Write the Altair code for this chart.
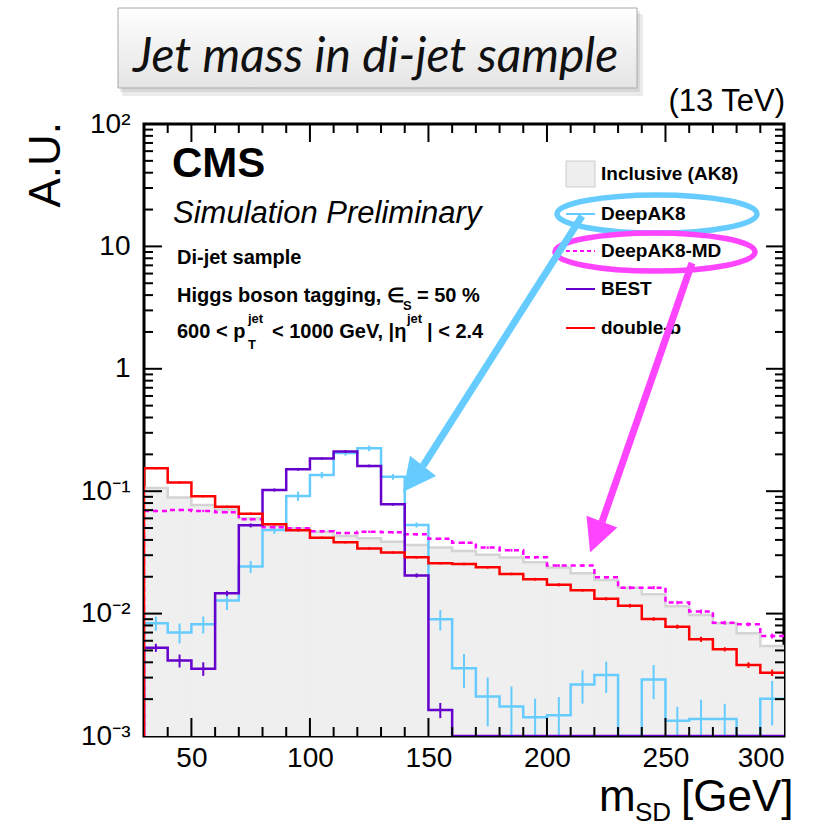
import altair as alt
import pandas as pd

# ---------------- data ----------------
edges = list(range(30, 310, 10))          # bin edges, 10 GeV bins, 30..300
inclusive = [0.106, 0.089, 0.077, 0.071, 0.060, 0.052, 0.0498, 0.0467, 0.0431, 0.0412,
             0.0387, 0.0364, 0.0346, 0.0325, 0.0303, 0.0287, 0.0263, 0.0238, 0.0214, 0.0188,
             0.0163, 0.0144, 0.0115, 0.00975, 0.00834, 0.00691, 0.00543]
deepak8 = [0.00834, 0.0070, 0.00817, 0.0128, 0.0242, 0.0482, 0.0914, 0.1355, 0.205, 0.224,
           0.131, 0.053, 0.00898, 0.00357, 0.0021, 0.00174, 0.00142, 0.00148, 0.00264, 0.00315,
           0.0, 0.0029, 0.00133, 0.00138, 0.00138, 0.0, 0.00202]
deepak8_err = [0.0011, 0.0013, 0.0013, 0.0021, 0.0027, 0.0034, 0.008, 0.008, 0.01, 0.012,
               0.007, 0.0025, 0.0017, 0.0011, 0.0009, 0.0008, 0.0006, 0.0006, 0.0008, 0.0009,
               0.0, 0.0009, 0.0004, 0.0006, 0.00045, 0.0, 0.0008]
deepak8_md = [0.0689, 0.0702, 0.069, 0.0673, 0.0589, 0.0507, 0.0498, 0.047, 0.0455, 0.0467,
              0.0461, 0.0444, 0.0409, 0.038, 0.0346, 0.0329, 0.0288, 0.0247, 0.0247, 0.0198,
              0.0163, 0.0163, 0.0123, 0.0104, 0.00843, 0.00817, 0.00656]
deepak8_md_err = [0.0015, 0.0015, 0.0015, 0.0014, 0.0013, 0.0011, 0.0011, 0.0011, 0.001, 0.001,
                  0.001, 0.001, 0.0009, 0.0009, 0.0008, 0.0008, 0.0007, 0.0006, 0.0006, 0.0005,
                  0.0005, 0.0005, 0.0004, 0.0004, 0.0003, 0.0003, 0.0003]
best = [0.00527, 0.00413, 0.00355, 0.01466, 0.0526, 0.1023, 0.151, 0.185, 0.211, 0.161,
        0.0782, 0.0205, 0.00163, 0.0, 0.0, 0.0, 0.0, 0.0, 0.0, 0.0,
        0.0, 0.0, 0.0, 0.0, 0.0, 0.0, 0.0]
best_err = [0.0004, 0.0005, 0.00045, 0.0007, 0.002, 0.003, 0.004, 0.004, 0.005, 0.004,
            0.002, 0.0008, 0.00023, 0.0, 0.0, 0.0, 0.0, 0.0, 0.0, 0.0,
            0.0, 0.0, 0.0, 0.0, 0.0, 0.0, 0.0]
doubleb = [0.154, 0.118, 0.091, 0.0747, 0.0655, 0.0536, 0.0479, 0.0417, 0.0382, 0.0341,
           0.0315, 0.0288, 0.0258, 0.0254, 0.0239, 0.0211, 0.0191, 0.0172, 0.0155, 0.0132,
           0.0116, 0.00903, 0.00782, 0.00617, 0.00511, 0.0038, 0.00329]
doubleb_err = [0.003, 0.0025, 0.002, 0.0016, 0.0014, 0.0012, 0.001, 0.0009, 0.0008, 0.0008,
               0.0007, 0.0007, 0.0006, 0.0006, 0.0006, 0.0005, 0.0005, 0.0005, 0.0004, 0.0004,
               0.0004, 0.0003, 0.0003, 0.0003, 0.0002, 0.0002, 0.0002]

legend_labels = ["Inclusive (AK8)", "DeepAK8", "DeepAK8-MD", "BEST", "double-b"]
x_tick_labels = [50, 100, 150, 200, 250, 300]
y_tick_values = [1e-3, 1e-2, 1e-1, 1, 10, 100]

# ---------------- style ----------------
W, H = 640, 612
FLOOR = 1e-3
FONT = "Liberation Sans"
C_INC_FILL, C_INC_LINE = "#efefef", "#d4d4d4"
C_BLUE, C_MAG, C_PURP, C_RED = "#66ccff", "#ff00ff", "#6600cc", "#ff0000"
C_ANN_BLUE, C_ANN_MAG = "#66ccff", "#ff44ff"


def X(field):
    return alt.X(field, type="quantitative",
                 scale=alt.Scale(domain=[30, 300], nice=False, zero=False),
                 axis=alt.Axis(values=x_tick_labels, ticks=False, domain=False, grid=False,
                               labelFont=FONT, labelFontSize=28, labelColor="black",
                               labelPadding=8, title=None))


def Y(field):
    return alt.Y(field, type="quantitative",
                 scale=alt.Scale(type="log", domain=[1e-3, 1e2], nice=False),
                 axis=alt.Axis(values=y_tick_values, ticks=False, domain=False, grid=False,
                               labelFont=FONT, labelFontSize=28, labelColor="black",
                               labelPadding=14, title=None,
                               labelExpr="datum.value > 50 ? '10²' : datum.value > 5 ? '10' : "
                                         "datum.value > 0.5 ? '1' : datum.value > 0.05 ? '10⁻¹' : "
                                         "datum.value > 0.005 ? '10⁻²' : '10⁻³'"))


def step_df(vals):
    rows = [{"x": edges[0], "y": FLOOR, "o": 0}]
    for i, v in enumerate(vals):
        rows.append({"x": edges[i], "y": max(v, FLOOR), "o": i + 1})
    rows.append({"x": edges[-1], "y": max(vals[-1], FLOOR), "o": len(vals) + 1})
    return pd.DataFrame(rows)


def err_df(vals, errs):
    rows = []
    for i, (v, e) in enumerate(zip(vals, errs)):
        if v > 0:
            rows.append({"xc": edges[i] + 5, "lo": max(v - e, FLOOR), "hi": v + e})
    return pd.DataFrame(rows)


one = pd.DataFrame({"a": [0]})
layers = []

# inclusive filled histogram (one rect per bin)
inc_bins = pd.DataFrame({"x": edges[:-1], "x2": edges[1:], "y": inclusive,
                         "base": [FLOOR] * len(inclusive)})
layers.append(alt.Chart(inc_bins).mark_rect(color=C_INC_FILL, stroke=C_INC_FILL, strokeWidth=0.8, clip=True)
              .encode(x=X("x"), x2="x2", y=Y("y"), y2="base"))
layers.append(alt.Chart(step_df(inclusive)).mark_line(interpolate="step-after", color=C_INC_LINE,
                                                      strokeWidth=2.5, clip=True)
              .encode(x=X("x"), y=Y("y"), order=alt.Order("o:Q")))

series = [
    (deepak8, deepak8_err, C_BLUE, None),
    (deepak8_md, deepak8_md_err, C_MAG, [5, 4]),
    (best, best_err, C_PURP, None),
    (doubleb, doubleb_err, C_RED, None),
]
for vals, errs, col, dash in series:
    kw = dict(interpolate="step-after", color=col, strokeWidth=2.5, clip=True)
    if dash:
        kw["strokeDash"] = dash
    layers.append(alt.Chart(step_df(vals)).mark_line(**kw)
                  .encode(x=X("x"), y=Y("y"), order=alt.Order("o:Q")))
    layers.append(alt.Chart(err_df(vals, errs)).mark_rule(color=col, strokeWidth=2, clip=True)
                  .encode(x=X("xc"), y=Y("lo"), y2="hi"))

# inner tick marks (ROOT style)
x_major = pd.DataFrame({"x": [50, 100, 150, 200, 250]})
x_minor = pd.DataFrame({"x": [v for v in range(40, 300, 10) if v % 50]})
y_major = pd.DataFrame({"y": [1e-2, 1e-1, 1, 10]})
y_minor = pd.DataFrame({"y": [k * 10.0 ** d for d in range(-3, 2) for k in range(2, 10)]})
for df, ln in ((x_major, 18), (x_minor, 9)):
    layers.append(alt.Chart(df).mark_rule(color="black", strokeWidth=2)
                  .encode(x=X("x"), y=alt.value(H), y2=alt.value(H - ln)))
    layers.append(alt.Chart(df).mark_rule(color="black", strokeWidth=2)
                  .encode(x=X("x"), y=alt.value(0), y2=alt.value(ln)))
for df, ln in ((y_major, 18), (y_minor, 9)):
    layers.append(alt.Chart(df).mark_rule(color="black", strokeWidth=2)
                  .encode(y=Y("y"), x=alt.value(0), x2=alt.value(ln)))
    layers.append(alt.Chart(df).mark_rule(color="black", strokeWidth=2)
                  .encode(y=Y("y"), x=alt.value(W), x2=alt.value(W - ln)))


def text(t, x, y, size, weight="normal", style="normal", align="left", font=FONT,
         color="black", angle=0, baseline="alphabetic"):
    kw = dict(text=t, align=align, baseline=baseline, font=font, fontSize=size,
              fontWeight=weight, fontStyle=style, color=color)
    if angle:
        kw["angle"] = angle
    return alt.Chart(one).mark_text(**kw).encode(x=alt.value(x), y=alt.value(y))


# CMS labels
layers += [
    text("CMS", 28, 53, 42, weight="bold"),
    text("Simulation Preliminary", 29, 99, 31, style="italic"),
    text("Di-jet sample", 33, 140, 20, weight="bold"),
    text("Higgs boson tagging, ∈", 33, 178, 20, weight="bold"),
    text("S", 259, 186, 13, weight="bold"),
    text("= 50 %", 273, 178, 20, weight="bold"),
    text("600 < p", 33, 214, 20, weight="bold"),
    text("jet", 104, 199, 13, weight="bold"),
    text("T", 104, 225, 13, weight="bold"),
    text("< 1000 GeV, |η", 128, 214, 20, weight="bold"),
    text("jet", 263, 199, 13, weight="bold"),
    text("| < 2.4", 283, 214, 20, weight="bold"),
]

# legend
row_y = [50, 90, 127, 165, 204]
layers.append(alt.Chart(one).mark_rect(color="#eeeeee", stroke="#cccccc", strokeWidth=1)
              .encode(x=alt.value(422), x2=alt.value(451), y=alt.value(37), y2=alt.value(63)))
for yy, col, dash in ((row_y[1], C_BLUE, None), (row_y[2], C_MAG, [4, 3]),
                      (row_y[3], C_PURP, None), (row_y[4], C_RED, None)):
    kw = dict(color=col, strokeWidth=2)
    if dash:
        kw["strokeDash"] = dash
    layers.append(alt.Chart(one).mark_rule(**kw)
                  .encode(x=alt.value(422), x2=alt.value(451), y=alt.value(yy)))
for lab, yy in zip(legend_labels, row_y):
    layers.append(text(lab, 457, yy, 19, weight="bold", baseline="middle"))

# axis titles and energy label
layers += [
    text("A.U.", -84, -2, 44, angle=270, align="right"),
    text("m", 455, 687, 44),
    text("SD", 491, 697, 26),
    text("[GeV]", 537, 687, 44),
    text("(13 TeV)", 641, -13, 31, align="right"),
]

# slide title box
layers.append(alt.Chart(one).mark_rect(color="#000000", opacity=0.08)
              .encode(x=alt.value(-22), x2=alt.value(499), y=alt.value(-110), y2=alt.value(-28)))
layers.append(alt.Chart(one).mark_rect(color="#000000", opacity=0.08)
              .encode(x=alt.value(-24), x2=alt.value(496), y=alt.value(-113), y2=alt.value(-32)))
layers.append(alt.Chart(one).mark_rect(
    color=alt.Gradient(gradient="linear",
                       stops=[alt.GradientStop(color="#ffffff", offset=0),
                              alt.GradientStop(color="#e4e4e4", offset=1)],
                       x1=0, x2=0, y1=0, y2=1),
    stroke="#a8a8a8", strokeWidth=1)
    .encode(x=alt.value(-26), x2=alt.value(493), y=alt.value(-116), y2=alt.value(-36)))
layers.append(alt.Chart(one).mark_text(text="Jet mass in di-jet sample", align="left", baseline="alphabetic",
                                       font="Lato", fontSize=48, fontStyle="italic", fontWeight="normal",
                                       color="#111111")
              .encode(x=alt.value(-11), y=alt.value(-52)))

# annotation ellipses and arrows
ELLIPSE = "M -1 0 A 1 0.19 0 1 0 1 0 A 1 0.19 0 1 0 -1 0 Z"
ARROW = "M 0 -1 L 1 1 L -1 1 Z"
layers.append(alt.Chart(one).mark_point(shape=ELLIPSE, size=40000, filled=False, color=C_ANN_BLUE,
                                        strokeWidth=5.5, opacity=1)
              .encode(x=alt.value(513), y=alt.value(90)))
layers.append(alt.Chart(one).mark_point(shape=ELLIPSE, size=40000, filled=False, color=C_ANN_MAG,
                                        strokeWidth=5.5, opacity=1)
              .encode(x=alt.value(511), y=alt.value(128)))
layers.append(alt.Chart(one).mark_rule(color=C_ANN_BLUE, strokeWidth=7)
              .encode(x=alt.value(438), y=alt.value(92), x2=alt.value(279), y2=alt.value(342)))
layers.append(alt.Chart(one).mark_point(shape=ARROW, size=1089, filled=True, color=C_ANN_BLUE,
                                        angle=217.6, opacity=1)
              .encode(x=alt.value(269), y=alt.value(355)))
layers.append(alt.Chart(one).mark_rule(color=C_ANN_MAG, strokeWidth=7)
              .encode(x=alt.value(548), y=alt.value(139), x2=alt.value(458), y2=alt.value(398)))
layers.append(alt.Chart(one).mark_point(shape=ARROW, size=1089, filled=True, color=C_ANN_MAG,
                                        angle=201, opacity=1)
              .encode(x=alt.value(452), y=alt.value(413)))

chart = (alt.layer(*layers)
         .properties(width=W, height=H, autosize=alt.AutoSizeParams(type="none"),
                     padding={"left": 144, "top": 124, "right": 29, "bottom": 92},
                     background="white")
         .configure_view(stroke="black", strokeWidth=3))

chart.save("out.html", embed_options={"renderer": "svg", "actions": False})
